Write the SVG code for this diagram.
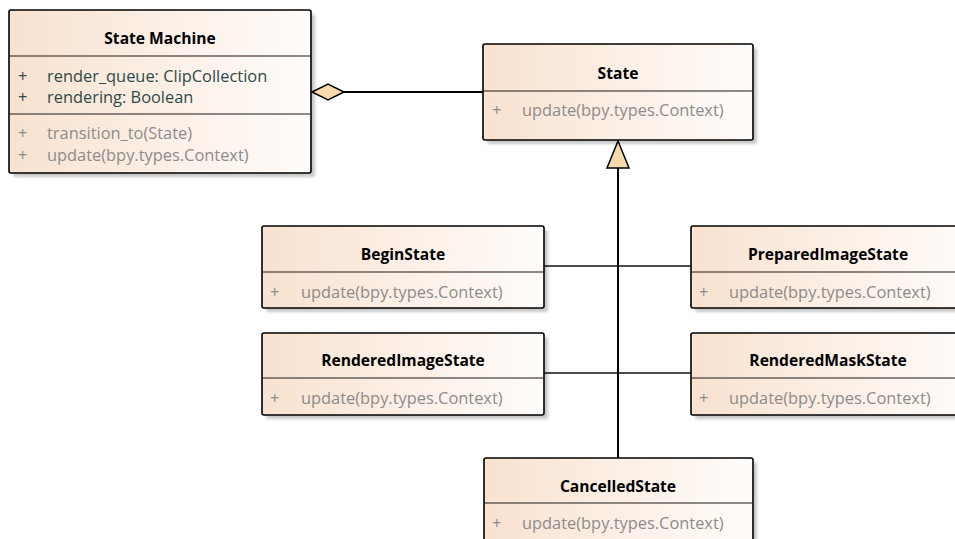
<svg xmlns="http://www.w3.org/2000/svg" width="955" height="539" viewBox="0 0 955 539">
  <defs>
    <linearGradient id="boxFill" x1="0" y1="0" x2="1" y2="0">
      <stop offset="0" stop-color="#f8e2d0"/>
      <stop offset="1" stop-color="#fffcfa"/>
    </linearGradient>
    <filter id="shadow" x="-5%" y="-5%" width="115%" height="120%">
      <feGaussianBlur stdDeviation="1.6"/>
    </filter>
    <style>
      .shadow { fill: #c8c8c8; filter: url(#shadow); }
      .box { fill: url(#boxFill); stroke: #000; stroke-width: 1.6; }
      .div { stroke: #1a1a1a; stroke-width: 1.2; }
      text { font-family: "Open Sans", "Liberation Sans", sans-serif; font-size: 16.4px; }
      .title { font-weight: bold; font-size: 15.6px; fill: #000; text-anchor: middle; }
      .attr { fill: #2f4a4a; }
      .op { fill: #8c8c8c; }
      .conn { stroke: #000; stroke-width: 2; fill: none; }
      .thin { stroke: #111; stroke-width: 1.4; fill: none; }
      .head { fill: #f7dbac; stroke: #000; stroke-width: 1.5; stroke-linejoin: miter; }
    </style>
  </defs>

  <!-- State Machine -->
  <g id="state-machine">
    <rect class="shadow" x="13" y="14" width="302" height="163" rx="2"/>
    <rect class="box" x="9" y="10" width="302" height="163" rx="2"/>
    <line class="div" x1="9" y1="56" x2="311" y2="56"/>
    <line class="div" x1="9" y1="114" x2="311" y2="114"/>
    <text class="title" x="160" y="44">State Machine</text>
    <text class="attr" x="18" y="82">+</text>
    <text class="attr" x="47" y="82">render_queue: ClipCollection</text>
    <text class="attr" x="18" y="103">+</text>
    <text class="attr" x="47" y="103">rendering: Boolean</text>
    <text class="op" x="18" y="139">+</text>
    <text class="op" x="47" y="139">transition_to(State)</text>
    <text class="op" x="18" y="161">+</text>
    <text class="op" x="47" y="161">update(bpy.types.Context)</text>
  </g>

  <!-- State -->
  <g id="state">
    <rect class="shadow" x="487" y="48" width="270" height="96" rx="2"/>
    <rect class="box" x="483" y="44" width="270" height="96" rx="2"/>
    <line class="div" x1="483" y1="91" x2="753" y2="91"/>
    <text class="title" x="618" y="79">State</text>
    <text class="op" x="492" y="116">+</text>
    <text class="op" x="522" y="116">update(bpy.types.Context)</text>
  </g>

  <!-- BeginState -->
  <g id="begin-state">
    <rect class="shadow" x="266" y="230" width="282" height="82" rx="2"/>
    <rect class="box" x="262" y="226" width="282" height="82" rx="2"/>
    <line class="div" x1="262" y1="272" x2="544" y2="272"/>
    <text class="title" x="403" y="260">BeginState</text>
    <text class="op" x="270" y="298">+</text>
    <text class="op" x="301" y="298">update(bpy.types.Context)</text>
  </g>

  <!-- PreparedImageState -->
  <g id="prepared-image-state">
    <rect class="shadow" x="695" y="230" width="282" height="82" rx="2"/>
    <rect class="box" x="691" y="226" width="282" height="82" rx="2"/>
    <line class="div" x1="691" y1="272" x2="973" y2="272"/>
    <text class="title" x="828" y="260">PreparedImageState</text>
    <text class="op" x="699" y="298">+</text>
    <text class="op" x="729" y="298">update(bpy.types.Context)</text>
  </g>

  <!-- RenderedImageState -->
  <g id="rendered-image-state">
    <rect class="shadow" x="266" y="337" width="282" height="82" rx="2"/>
    <rect class="box" x="262" y="333" width="282" height="82" rx="2"/>
    <line class="div" x1="262" y1="378" x2="544" y2="378"/>
    <text class="title" x="403" y="366">RenderedImageState</text>
    <text class="op" x="270" y="404">+</text>
    <text class="op" x="301" y="404">update(bpy.types.Context)</text>
  </g>

  <!-- RenderedMaskState -->
  <g id="rendered-mask-state">
    <rect class="shadow" x="695" y="337" width="282" height="82" rx="2"/>
    <rect class="box" x="691" y="333" width="282" height="82" rx="2"/>
    <line class="div" x1="691" y1="378" x2="973" y2="378"/>
    <text class="title" x="828" y="366">RenderedMaskState</text>
    <text class="op" x="699" y="404">+</text>
    <text class="op" x="729" y="404">update(bpy.types.Context)</text>
  </g>

  <!-- CancelledState -->
  <g id="cancelled-state">
    <rect class="shadow" x="488" y="462" width="269" height="84" rx="2"/>
    <rect class="box" x="484" y="458" width="269" height="84" rx="2"/>
    <line class="div" x1="484" y1="503" x2="753" y2="503"/>
    <text class="title" x="618" y="492">CancelledState</text>
    <text class="op" x="492" y="529">+</text>
    <text class="op" x="522" y="529">update(bpy.types.Context)</text>
  </g>

  <!-- Connectors -->
  <g id="connectors">
    <!-- aggregation: State Machine holds State -->
    <line class="conn" x1="344" y1="92" x2="483" y2="92"/>
    <polygon class="head" points="312,92 328,84 344,92 328,100"/>
    <!-- generalization trunk and the branches that meet it -->
    <line class="conn" x1="618" y1="168" x2="618" y2="458"/>
    <line class="thin" x1="544" y1="266" x2="691" y2="266"/>
    <line class="thin" x1="544" y1="373" x2="691" y2="373"/>
    <polygon class="head" points="618,141 629,168 607,168"/>
  </g>
</svg>
